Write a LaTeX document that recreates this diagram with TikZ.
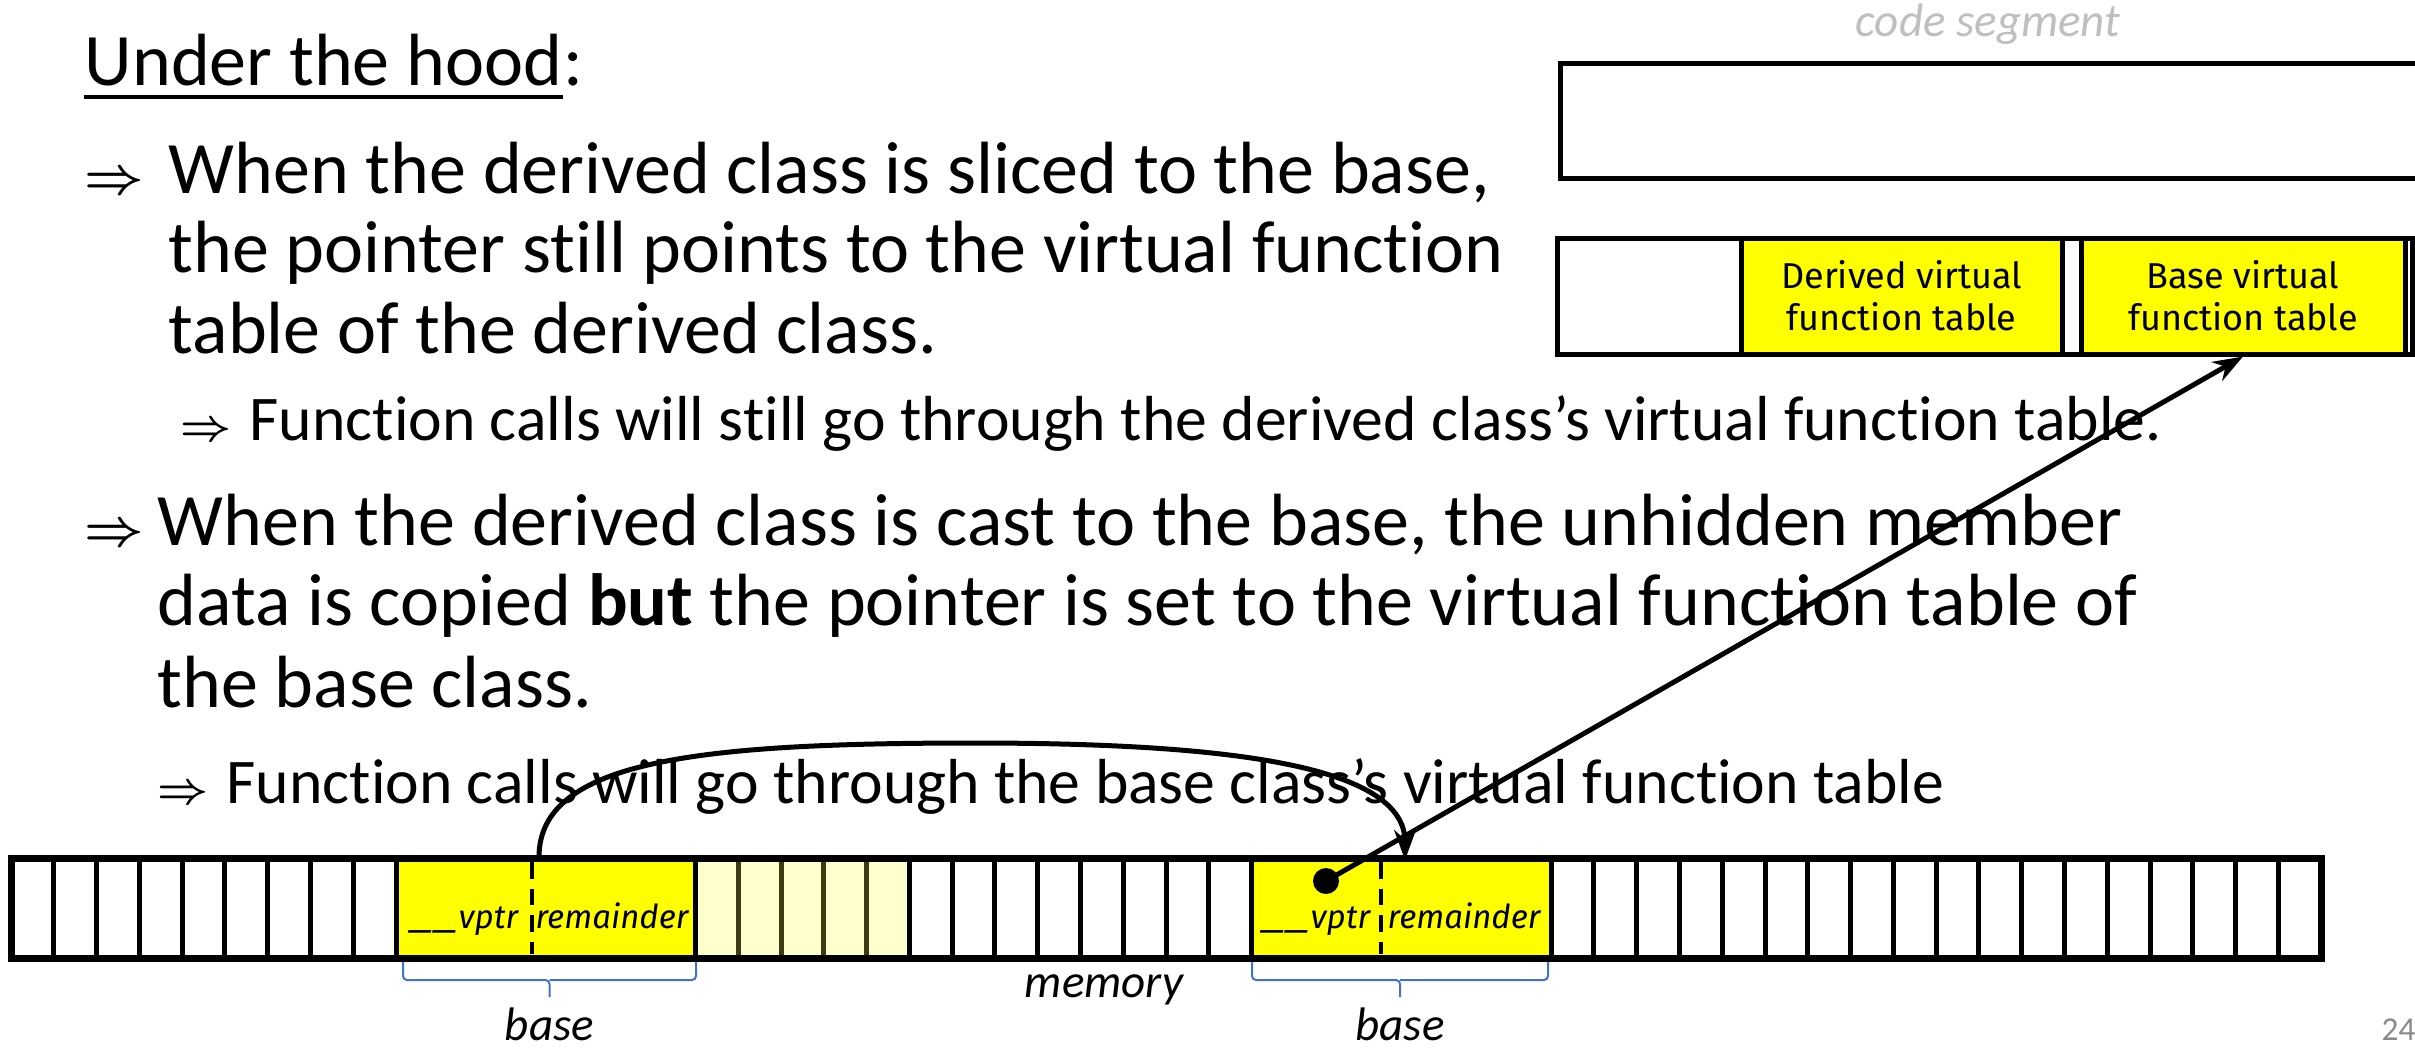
\RequirePackage{fix-cm}
\documentclass[tikz,border=0pt]{standalone}
\usepackage{fontspec}
\setmainfont{Carlito}[Ligatures=NoCommon]
\newfontfamily\comic{Fira Sans}
\usetikzlibrary{arrows.meta,calc}
\definecolor{yel}{HTML}{FFFF00}
\definecolor{lyel}{HTML}{FFFFCC}
\definecolor{lyline}{HTML}{3C3C14}
\definecolor{segray}{HTML}{BFBFBF}
\definecolor{pgray}{HTML}{898989}
\definecolor{braceblue}{HTML}{4472C4}
\newcommand{\darrb}{\resizebox{17.8pt}{!}{\boldmath$\Rightarrow$}}
\newcommand{\darrs}{\resizebox{15.3pt}{!}{\boldmath$\Rightarrow$}}
\begin{document}
\begin{tikzpicture}[x=0.3pt,y=-0.3pt,
  big/.style={inner sep=0pt, anchor=base west, font=\fontsize{22.2}{26}\selectfont},
  small/.style={inner sep=0pt, anchor=base west, font=\fontsize{19.1}{23}\selectfont},
  lbl/.style={inner sep=0pt, anchor=base, font=\fontsize{14.1}{17}\selectfont\itshape},
  cell/.style={line width=1.5pt},
  yblock/.style={draw, line width=1.5pt, fill=yel, inner sep=0pt, minimum width=89.85pt, minimum height=30pt},
  vft/.style={draw, line width=1.5pt, fill=yel, inner sep=0pt, minimum height=34.8pt, align=center,
    font=\comic\fontsize{10.8}{12.6}\selectfont},
  fld/.style={inner sep=0pt, anchor=base, font=\comic\itshape\fontsize{9.9}{12}\selectfont},
  ptr/.style={line width=1.5pt, -{Stealth[length=9pt,width=6.5pt]}},
  brc/.style={draw=braceblue, line width=0.6pt, rounded corners=1.2pt}
]
\useasboundingbox (0,0) rectangle (2415,1049);
\clip (0,0) rectangle (2415,1049);
\fill[white] (0,0) rectangle (2415,1049);

% ---------- left text ----------
\node[big] (title) at (84,85) {Under the hood};
\node[big] (colon) at (title.base east) {:};
\draw[line width=1.3pt] ($(title.base west)+(0,12)$) -- ($(title.base east)+(0,12)$);

\node[big] (a2) at (84,193) {\darrb};
\node[big] (l2) at (168,193) {When the derived class is sliced to the base,};
\node[big] (l3) at (168,272) {the pointer still points to the virtual function};
\node[big] (l4) at (168,353) {table of the derived class.};

\node[small] (a5) at (180,440) {\darrs};
\node[small] (l5) at (249,440) {Function calls will still go through the derived class’s virtual function table.};

\node[big] (a6) at (84,545) {\darrb};
\node[big] (l6) at (157,545) {When the derived class is cast to the base, the unhidden member};
\node[big] (l7) at (157,625) {data is copied \textbf{but} the pointer is set to the virtual function table of};
\node[big] (l8) at (157,707) {the base class.};

\node[small] (a9) at (157,803) {\darrs};
\node[small] (l9) at (226,803) {Function calls will go through the base class’s virtual function table};

% ---------- code segment ----------
\node[lbl, text=segray] (cseg) at (1988,36) {code segment};
\draw[line width=1.5pt] (1560,63) rectangle (2460,178);
\draw[line width=1.5pt] (1557,238) rectangle (2460,354);
\node[vft, minimum width=96.3pt] (dvt) at (1901.5,296) {Derived virtual\\function table};
\node[vft, minimum width=97.2pt] (bvt) at (2243,296) {Base virtual\\function table};
\draw[line width=1.5pt, fill=yel] (2412,238) rectangle (2470,354);

% ---------- memory strip ----------
\fill[white] (11,858) rectangle (2321,958);
\fill[lyel] (695.5,858) rectangle (909.4,958);
\foreach \i in {1,...,8} \draw[cell] ({11+\i*42.78},858) -- ({11+\i*42.78},958);
\foreach \i in {17,...,20} \draw[cell, lyline] ({11+\i*42.78},858) -- ({11+\i*42.78},958);
\foreach \i in {21,...,28} \draw[cell] ({11+\i*42.78},858) -- ({11+\i*42.78},958);
\foreach \i in {37,...,53} \draw[cell] ({11+\i*42.78},858) -- ({11+\i*42.78},958);

\node[yblock] (blk1) at (545.75,908) {};
\node[yblock] (blk2) at (1401.35,908) {};
\draw[line width=2.1pt] (11,858) rectangle (2321,958);

\draw[line width=1pt, dash pattern=on 5pt off 3pt] (532,862) -- (532,954);
\draw[line width=1pt, dash pattern=on 5pt off 3pt] (1381,862) -- (1381,954);

\node[fld] (v1) at (464,928) {\scalebox{1.45}[1]{\_\_}vptr};
\node[fld] (r1) at (612,928) {remainder};
\node[fld] (v2) at (1316,928) {\scalebox{1.45}[1]{\_\_}vptr};
\node[fld] (r2) at (1464,928) {remainder};

% braces
\draw[brc] (403,962) -- (403,980) -- (549.5,980) -- (549.5,997);
\draw[brc] (696,962) -- (696,980) -- (549.5,980);
\draw[brc] (1252,962) -- (1252,980) -- (1400,980) -- (1400,997);
\draw[brc] (1548,962) -- (1548,980) -- (1400,980);

\node[lbl] (mem) at (1104,997) {memory};
\node[lbl] (b1) at (549.5,1040) {base};
\node[lbl] (b2) at (1400,1040) {base};

% ---------- connectors ----------
\coordinate (c1) at (539,857);
\coordinate (c2) at (1405,860);
\draw[ptr] (c1) .. controls (539,760) and (700,743) .. (975,743)
               .. controls (1250,743) and (1405,770) .. (c2);

\node[circle, fill=black, inner sep=0pt, minimum size=7.8pt] (dot) at (1326,881) {};
\draw[ptr] (dot.center) -- (bvt.south);

\node[inner sep=0pt, anchor=base west, text=pgray, font=\fontsize{10}{12}\selectfont] (pg) at (2381,1040) {24};
\end{tikzpicture}
\end{document}
